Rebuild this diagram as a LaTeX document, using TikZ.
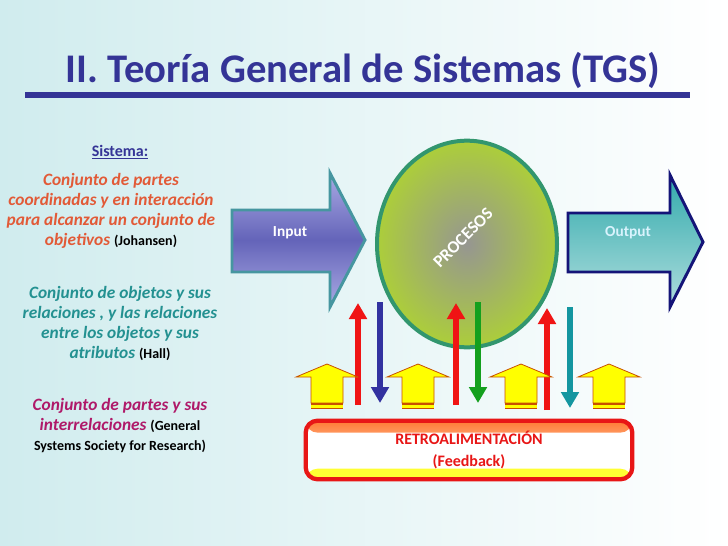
\documentclass[tikz,border=0pt]{standalone}
\usepackage{fontspec}
\setmainfont{Carlito}
\usepackage{xcolor}
\usetikzlibrary{arrows.meta, positioning, calc, shapes.geometric}

\definecolor{titleblue}{RGB}{52,52,150}
\definecolor{defA}{RGB}{226,90,55}
\definecolor{defB}{RGB}{35,145,145}
\definecolor{defC}{RGB}{175,25,105}
\definecolor{inDark}{RGB}{100,100,185}
\definecolor{inLight}{RGB}{170,170,228}
\definecolor{inBorder}{RGB}{70,150,160}
\definecolor{outTop}{RGB}{50,170,172}
\definecolor{outBot}{RGB}{175,222,222}
\definecolor{outBorder}{RGB}{20,20,120}
\definecolor{procFill}{RGB}{172,206,58}
\definecolor{procCore}{RGB}{150,150,145}
\definecolor{procBorder}{RGB}{50,150,110}
\definecolor{arRed}{RGB}{240,20,20}
\definecolor{arBlue}{RGB}{50,50,160}
\definecolor{arGreen}{RGB}{20,160,30}
\definecolor{arTeal}{RGB}{20,150,160}
\definecolor{yFill}{RGB}{255,255,0}
\definecolor{yBorder}{RGB}{200,80,0}
\definecolor{fbRed}{RGB}{232,22,22}
\definecolor{bgCyan}{RGB}{208,236,238}

% author names, black upright
\newcommand\auth[1]{{\normalfont\bfseries\fontsize{10.5}{15}\selectfont\color{black}#1}}

\begin{document}
\begin{tikzpicture}[
  x=0.75pt, y=-0.75pt,
  every node/.style={inner sep=0pt},
  titletext/.style={font=\bfseries\fontsize{30.5}{36}\selectfont, text=titleblue},
  titlebar/.style={titleblue, line width=3.8pt},
  headtext/.style={font=\bfseries\fontsize{12}{15}\selectfont, text=titleblue},
  deftext/.style={font=\bfseries\itshape\fontsize{13}{15}\selectfont, align=center},
  bigarrow/.style={line width=2.2pt, line join=miter},
  arrowtext/.style={font=\bfseries\fontsize{11.5}{14}\selectfont},
  proc/.style={ellipse, draw=procBorder, line width=3pt,
                minimum width=135pt, minimum height=155pt,
                inner color=procCore, outer color=procFill},
  proctext/.style={font=\bfseries\fontsize{13}{15}\selectfont, text=white},
  fbarr/.style={line width=4.5pt, -{Triangle[width=13pt,length=12pt]}},
  fbbox/.style={draw=fbRed, line width=3.2pt, rounded corners=9pt, fill=white,
                minimum width=245pt, minimum height=44pt,
                font=\bfseries\fontsize{12}{16.5}\selectfont, text=fbRed, align=center,
                path picture={
                  \fill[top color=orange!70!red!80, bottom color=white]
                    (path picture bounding box.north west) rectangle
                    ([yshift=-9pt]path picture bounding box.north east);
                  \fill[yFill!80!white]
                    ([yshift=8pt]path picture bounding box.south west) rectangle
                    (path picture bounding box.south east);}},
  yarrow/.pic={
    \path[fill=yFill, draw=yBorder, line width=0.6pt, line join=miter]
      (-16,403) -- (-16,377) -- (-31,377) -- (0,364) -- (31,377)
      -- (16,377) -- (16,403) -- cycle;
    \fill[yFill] (-16,403) rectangle (16,409);
    \draw[yBorder, line width=0.9pt] (-16,404) -- (16,404);
    \draw[yBorder, line width=0.9pt] (-16,408.5) -- (16,408.5);
  },
]
  \useasboundingbox (0,0) rectangle (728,546);

  % background
  \fill[left color=bgCyan, right color=white] (0,0) rectangle (728,546);

  % title
  \node[titletext] (title) at (363,70) {II. Teoría General de Sistemas (TGS)};
  \draw[titlebar] (25,95) -- (690,95);

  % left column: definitions
  \node[headtext] (sis) at (120,152) {\underline{Sistema:}};
  \node[deftext, text=defA] (defjoh) at (111,211)
    {Conjunto de partes\\coordinadas y en interacción\\para alcanzar un conjunto de\\objetivos \auth{(Johansen)}};
  \node[deftext, text=defB] (defhall) at (120,323)
    {Conjunto de objetos y sus\\relaciones , y las relaciones\\entre los objetos y sus\\atributos \auth{(Hall)}};
  \node[deftext, text=defC] (defgssr) at (120,426)
    {Conjunto de partes y sus\\interrelaciones \auth{(General}\\\auth{Systems Society for Research)}};

  % input arrow
  \path[bigarrow, draw=inBorder, top color=inLight, bottom color=inLight, middle color=inDark]
    (232,210) -- (330,210) -- (330,173) -- (365,240) -- (330,307) -- (330,272)
    -- (232,272) -- cycle;
  \node[arrowtext, text=white] (input) at (290,233) {Input};

  % output arrow
  \path[bigarrow, draw=outBorder, top color=outTop, bottom color=outBot]
    (568,213) -- (670,213) -- (670,175) -- (703,242) -- (670,307) -- (670,272)
    -- (568,272) -- cycle;
  \node[arrowtext, text=cyan!15!white] (output) at (628,233) {Output};

  % process
  \node[proc] (proc) at (467,244) {};
  \node[proctext, rotate=45] (proclbl) at (463,238) {PROCESOS};

  % feedback arrows
  \coordinate (r1b) at (358,405); \coordinate (r1t) at (358,303);
  \coordinate (b1t) at (380,302); \coordinate (b1b) at (380,403);
  \coordinate (r2b) at (456,405); \coordinate (r2t) at (456,303);
  \coordinate (g1t) at (478,302); \coordinate (g1b) at (478,403);
  \coordinate (r3b) at (547,410); \coordinate (r3t) at (547,308);
  \coordinate (t1t) at (570,307); \coordinate (t1b) at (570,408);
  \draw[fbarr, arRed]   (r1b) -- (r1t);
  \draw[fbarr, arBlue]  (b1t) -- (b1b);
  \draw[fbarr, arRed]   (r2b) -- (r2t);
  \draw[fbarr, arGreen] (g1t) -- (g1b);
  \draw[fbarr, arRed]   (r3b) -- (r3t);
  \draw[fbarr, arTeal]  (t1t) -- (t1b);

  % yellow block arrows
  \pic at (327,0) {yarrow};
  \pic at (418,0) {yarrow};
  \pic at (521,0) {yarrow};
  \pic at (609,0) {yarrow};

  % feedback box
  \node[fbbox] (fb) at (469,450) {RETROALIMENTACIÓN\\(Feedback)};
\end{tikzpicture}
\end{document}
